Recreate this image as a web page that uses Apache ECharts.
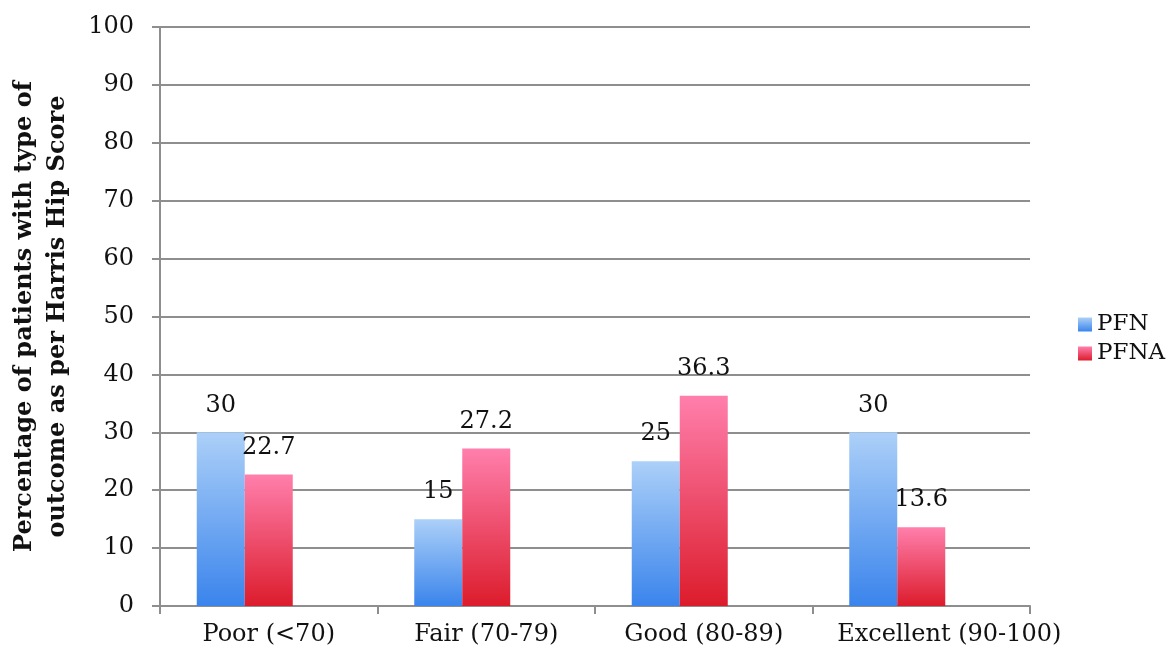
<!doctype html>
<html>
<head>
  <meta charset="utf-8">
  <title>Harris Hip Score outcome</title>
  <script src="https://cdn.jsdelivr.net/npm/echarts@6/dist/echarts.min.js"></script>
  <style>
    html, body { margin: 0; padding: 0; background: #fff; }
    #chart { width: 1174px; height: 658px; }
  </style>
</head>
<body>
  <div id="chart"></div>
  <script>
    const categories = ["Poor (<70)", "Fair (70-79)", "Good (80-89)", "Excellent (90-100)"];
    const pfn = [30, 15, 25, 30];
    const pfna = [22.7, 27.2, 36.3, 13.6];
    const yTitle = "Percentage of patients with type of\noutcome as per Harris Hip Score";

    const font = "DejaVu Serif";
    const ink = "#111";
    const line = "#8e8e8e";

    function grad(top, bottom) {
      return new echarts.graphic.LinearGradient(0, 0, 0, 1, [
        { offset: 0, color: top },
        { offset: 1, color: bottom }
      ]);
    }

    const barLabel = {
      show: true,
      position: "top",
      distance: 15,
      color: ink,
      fontFamily: font,
      fontSize: 24
    };

    const chart = echarts.init(document.getElementById("chart"));
    chart.setOption({
      animation: false,
      // grid 0 holds the bars (shifted left like the original), grid 1 draws the frame
      grid: [
        { left: 136, right: 168, top: 27, bottom: 52 },
        { left: 160, right: 144, top: 27, bottom: 52 }
      ],
      legend: {
        orient: "vertical",
        left: 1073,
        top: 308,
        icon: "rect",
        itemWidth: 14,
        itemHeight: 14,
        itemGap: 6,
        data: ["PFN", "PFNA"],
        textStyle: { fontFamily: font, fontSize: 23, color: ink }
      },
      xAxis: [
        {
          type: "category",
          gridIndex: 1,
          data: categories,
          axisLine: { show: true, lineStyle: { color: line, width: 2 } },
          axisTick: { show: true, length: 8, lineStyle: { color: line, width: 2 } },
          axisLabel: {
            interval: 0,
            color: ink,
            fontFamily: font,
            fontSize: 24,
            margin: 17,
            // the last label sits a bit right of its slot in the original
            formatter: (v, i) => i === categories.length - 1 ? "{last|" + v + "}" : v,
            rich: {
              last: { fontFamily: font, fontSize: 24, color: ink, padding: [0, 0, 0, 56] }
            }
          }
        },
        {
          type: "category",
          gridIndex: 0,
          data: categories,
          show: false
        }
      ],
      yAxis: [
        {
          type: "value",
          gridIndex: 0,
          min: 0,
          max: 100,
          interval: 10,
          show: false
        },
        {
          type: "value",
          gridIndex: 1,
          min: 0,
          max: 100,
          interval: 10,
          name: yTitle,
          nameLocation: "middle",
          nameGap: 86,
          nameTextStyle: {
            fontFamily: font,
            fontWeight: "bold",
            fontSize: 24,
            lineHeight: 33,
            color: ink
          },
          axisLine: { show: true, lineStyle: { color: line, width: 2 } },
          axisTick: { show: true, length: 8, lineStyle: { color: line, width: 2 } },
          splitLine: { show: true, lineStyle: { color: line, width: 2 } },
          axisLabel: { color: ink, fontFamily: font, fontSize: 24, margin: 26 }
        }
      ],
      series: [
        {
          name: "PFN",
          type: "bar",
          xAxisIndex: 1,
          yAxisIndex: 0,
          data: pfn,
          barWidth: 48,
          barGap: "0%",
          itemStyle: { color: grad("#acd0f8", "#3a84ec") },
          label: barLabel
        },
        {
          name: "PFNA",
          type: "bar",
          xAxisIndex: 1,
          yAxisIndex: 0,
          data: pfna,
          barWidth: 48,
          barGap: "0%",
          itemStyle: { color: grad("#ff7fac", "#dc1c2c") },
          label: barLabel
        }
      ]
    });
  </script>
</body>
</html>
